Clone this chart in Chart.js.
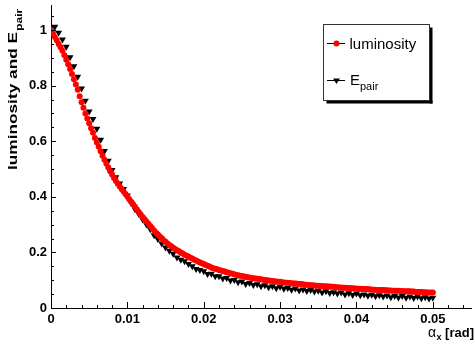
<!DOCTYPE html>
<html>
<head>
<meta charset="utf-8">
<script src="https://cdn.jsdelivr.net/npm/chart.js@4"></script>
<style>
  html, body { margin: 0; padding: 0; background: #fff; }
  #wrap { width: 475px; height: 345px; }
</style>
</head>
<body>
<div id="wrap"><canvas id="myChart" width="475" height="345"></canvas></div>
<script>
// crossing angle alpha_x [rad] for the luminosity scan
const lumiX = [
  0, 0.00025, 0.0005, 0.00075, 0.001, 0.00125, 0.0015, 0.00175,
  0.002, 0.00225, 0.0025, 0.00275, 0.003, 0.00325, 0.0035, 0.00375,
  0.004, 0.00425, 0.0045, 0.00475, 0.005, 0.00525, 0.0055, 0.00575,
  0.006, 0.00625, 0.0065, 0.00675, 0.007, 0.00725, 0.0075, 0.00775,
  0.008, 0.00825, 0.0085, 0.00875, 0.009, 0.00925, 0.0095, 0.00975,
  0.01, 0.01025, 0.0105, 0.01075, 0.011, 0.01125, 0.0115, 0.01175,
  0.012, 0.01225, 0.0125, 0.01275, 0.013, 0.01325, 0.0135, 0.01375,
  0.014, 0.01425, 0.0145, 0.01475, 0.015, 0.01525, 0.0155, 0.01575,
  0.016, 0.01625, 0.0165, 0.01675, 0.017, 0.01725, 0.0175, 0.01775,
  0.018, 0.01825, 0.0185, 0.01875, 0.019, 0.01925, 0.0195, 0.01975,
  0.02, 0.02025, 0.0205, 0.02075, 0.021, 0.02125, 0.0215, 0.02175,
  0.022, 0.02225, 0.0225, 0.02275, 0.023, 0.02325, 0.0235, 0.02375,
  0.024, 0.02425, 0.0245, 0.02475, 0.025, 0.02525, 0.0255, 0.02575,
  0.026, 0.02625, 0.0265, 0.02675, 0.027, 0.02725, 0.0275, 0.02775,
  0.028, 0.02825, 0.0285, 0.02875, 0.029, 0.02925, 0.0295, 0.02975,
  0.03, 0.03025, 0.0305, 0.03075, 0.031, 0.03125, 0.0315, 0.03175,
  0.032, 0.03225, 0.0325, 0.03275, 0.033, 0.03325, 0.0335, 0.03375,
  0.034, 0.03425, 0.0345, 0.03475, 0.035, 0.03525, 0.0355, 0.03575,
  0.036, 0.03625, 0.0365, 0.03675, 0.037, 0.03725, 0.0375, 0.03775,
  0.038, 0.03825, 0.0385, 0.03875, 0.039, 0.03925, 0.0395, 0.03975,
  0.04, 0.04025, 0.0405, 0.04075, 0.041, 0.04125, 0.0415, 0.04175,
  0.042, 0.04225, 0.0425, 0.04275, 0.043, 0.04325, 0.0435, 0.04375,
  0.044, 0.04425, 0.0445, 0.04475, 0.045, 0.04525, 0.0455, 0.04575,
  0.046, 0.04625, 0.0465, 0.04675, 0.047, 0.04725, 0.0475, 0.04775,
  0.048, 0.04825, 0.0485, 0.04875, 0.049, 0.04925, 0.0495, 0.04975,
  0.05,
];

// relative luminosity (red circles)
const luminosity = [
  1.0, 0.988, 0.975, 0.963, 0.95, 0.938, 0.925, 0.909,
  0.893, 0.877, 0.86, 0.842, 0.823, 0.804, 0.785, 0.762,
  0.74, 0.72, 0.7, 0.682, 0.665, 0.647, 0.63, 0.612,
  0.595, 0.58, 0.564, 0.548, 0.533, 0.519, 0.505, 0.492,
  0.48, 0.468, 0.457, 0.447, 0.437, 0.428, 0.419, 0.41,
  0.401, 0.391, 0.382, 0.373, 0.364, 0.354, 0.345, 0.336,
  0.327, 0.319, 0.311, 0.303, 0.295, 0.287, 0.279, 0.271,
  0.264, 0.257, 0.251, 0.244, 0.238, 0.232, 0.227, 0.222,
  0.217, 0.212, 0.208, 0.204, 0.2, 0.196, 0.192, 0.188,
  0.185, 0.181, 0.178, 0.174, 0.171, 0.167, 0.164, 0.161,
  0.158, 0.155, 0.152, 0.149, 0.146, 0.143, 0.141, 0.139,
  0.137, 0.135, 0.133, 0.131, 0.129, 0.127, 0.125, 0.123,
  0.121, 0.119, 0.118, 0.116, 0.115, 0.113, 0.112, 0.111,
  0.11, 0.108, 0.107, 0.106, 0.105, 0.104, 0.103, 0.102,
  0.101, 0.1, 0.099, 0.098, 0.097, 0.096, 0.095, 0.094,
  0.094, 0.093, 0.092, 0.091, 0.091, 0.09, 0.089, 0.088,
  0.088, 0.087, 0.086, 0.086, 0.085, 0.084, 0.084, 0.083,
  0.082, 0.082, 0.081, 0.08, 0.08, 0.079, 0.079, 0.078,
  0.078, 0.077, 0.077, 0.076, 0.076, 0.075, 0.075, 0.074,
  0.074, 0.073, 0.073, 0.072, 0.072, 0.071, 0.071, 0.07,
  0.07, 0.069, 0.069, 0.068, 0.068, 0.068, 0.068, 0.067,
  0.067, 0.066, 0.066, 0.065, 0.065, 0.065, 0.065, 0.064,
  0.064, 0.063, 0.063, 0.062, 0.062, 0.062, 0.062, 0.061,
  0.061, 0.06, 0.06, 0.06, 0.06, 0.059, 0.059, 0.058,
  0.058, 0.058, 0.058, 0.057, 0.057, 0.056, 0.056, 0.056,
  0.056,
];

// crossing angle alpha_x [rad] for the pair energy scan
const pairX = [
  0, 0.0005, 0.001, 0.0015, 0.002, 0.0025, 0.003, 0.0035,
  0.004, 0.0045, 0.005, 0.0055, 0.006, 0.0065, 0.007, 0.0075,
  0.008, 0.0085, 0.009, 0.0095, 0.01, 0.0105, 0.011, 0.0115,
  0.012, 0.0125, 0.013, 0.0135, 0.014, 0.0145, 0.015, 0.0155,
  0.016, 0.0165, 0.017, 0.0175, 0.018, 0.0185, 0.019, 0.0195,
  0.02, 0.0205, 0.021, 0.0215, 0.022, 0.0225, 0.023, 0.0235,
  0.024, 0.0245, 0.025, 0.0255, 0.026, 0.0265, 0.027, 0.0275,
  0.028, 0.0285, 0.029, 0.0295, 0.03, 0.0305, 0.031, 0.0315,
  0.032, 0.0325, 0.033, 0.0335, 0.034, 0.0345, 0.035, 0.0355,
  0.036, 0.0365, 0.037, 0.0375, 0.038, 0.0385, 0.039, 0.0395,
  0.04, 0.0405, 0.041, 0.0415, 0.042, 0.0425, 0.043, 0.0435,
  0.044, 0.0445, 0.045, 0.0455, 0.046, 0.0465, 0.047, 0.0475,
  0.048, 0.0485, 0.049, 0.0495, 0.05,
];

// relative pair energy (black triangles)
const ePair = [
  1.01, 1.012, 0.99, 0.966, 0.94, 0.902, 0.87, 0.832,
  0.79, 0.746, 0.707, 0.68, 0.645, 0.605, 0.565, 0.53,
  0.496, 0.47, 0.448, 0.428, 0.405, 0.378, 0.355, 0.338,
  0.318, 0.3, 0.283, 0.262, 0.248, 0.232, 0.218, 0.206,
  0.195, 0.182, 0.174, 0.168, 0.158, 0.15, 0.14, 0.137,
  0.132, 0.122, 0.123, 0.114, 0.114, 0.106, 0.108, 0.099,
  0.101, 0.093, 0.095, 0.086, 0.09, 0.083, 0.085, 0.078,
  0.082, 0.075, 0.078, 0.071, 0.076, 0.069, 0.072, 0.066,
  0.07, 0.063, 0.067, 0.061, 0.065, 0.059, 0.062, 0.056,
  0.06, 0.054, 0.057, 0.052, 0.056, 0.049, 0.053, 0.047,
  0.052, 0.046, 0.049, 0.044, 0.048, 0.042, 0.046, 0.041,
  0.045, 0.039, 0.043, 0.038, 0.043, 0.037, 0.041, 0.036,
  0.041, 0.035, 0.039, 0.034, 0.037,
];

const xTickValues = [0, 0.01, 0.02, 0.03, 0.04, 0.05];
const xTickLabels = ["0", "0.01", "0.02", "0.03", "0.04", "0.05"];
const yTickValues = [0, 0.2, 0.4, 0.6, 0.8, 1];
const yTickLabels = ["0", "0.2", "0.4", "0.6", "0.8", "1"];

const FONT = '"Liberation Sans", Arial, Helvetica, sans-serif';

function toPoints(xs, ys) {
  return xs.map((x, i) => ({ x: x, y: ys[i] }));
}

// ROOT style inward ticks, axis titles and the boxed legend
const rootDecor = {
  id: "root_decor",
  afterDraw(chart) {
    const { ctx, chartArea, scales } = chart;
    const xs = scales.x;
    const ys = scales.y;
    ctx.save();
    ctx.strokeStyle = "#000";
    ctx.lineWidth = 1;
    ctx.beginPath();
    // x ticks, minor every 0.002
    for (let i = 0; i <= 27; i++) {
      const px = Math.round(xs.getPixelForValue(i * 0.002)) + 0.5;
      const len = i % 5 === 0 ? 6 : 3;
      ctx.moveTo(px, chartArea.bottom);
      ctx.lineTo(px, chartArea.bottom - len);
    }
    // y ticks, minor every 0.05
    for (let i = 0; i <= 21; i++) {
      const py = Math.round(ys.getPixelForValue(i * 0.05)) + 0.5;
      const len = i % 4 === 0 ? 5 : 3;
      ctx.moveTo(chartArea.left, py);
      ctx.lineTo(chartArea.left + len, py);
    }
    ctx.stroke();

    ctx.fillStyle = "#000";
    ctx.textBaseline = "alphabetic";

    // x title: alpha_x [rad]
    ctx.textAlign = "right";
    ctx.font = "bold 13px " + FONT;
    const rad = " [rad]";
    ctx.fillText(rad, 474, 337);
    const wRad = ctx.measureText(rad).width;
    ctx.font = "bold 9px " + FONT;
    ctx.fillText("x", 474 - wRad, 340);
    const wSub = ctx.measureText("x").width;
    ctx.font = "14px " + FONT;
    ctx.fillText("\u03B1", 474 - wRad - wSub - 0.5, 337);

    // y title: luminosity and E_pair
    ctx.save();
    ctx.textAlign = "left";
    ctx.translate(17, 170);
    ctx.rotate(-Math.PI / 2);
    ctx.font = "bold 13px " + FONT;
    const main = "luminosity and E";
    const w = ctx.measureText(main).width;
    ctx.scale(138 / w, 1);
    ctx.fillText(main, 0, 0);
    ctx.font = "bold 9px " + FONT;
    ctx.fillText("pair", w + 1, 5);
    ctx.restore();

    // legend box with shadow
    const bx = 323.5, by = 24.5, bw = 106, bh = 76;
    ctx.fillStyle = "#000";
    ctx.fillRect(bx + 3, by + bh, bw, 3);
    ctx.fillRect(bx + bw, by + 3, 3, bh);
    ctx.fillStyle = "#fff";
    ctx.fillRect(bx, by, bw, bh);
    ctx.strokeStyle = "#333";
    ctx.strokeRect(bx, by, bw, bh);

    ctx.strokeStyle = "#000";
    ctx.beginPath();
    ctx.moveTo(327, 43.5);
    ctx.lineTo(345, 43.5);
    ctx.moveTo(327, 80.5);
    ctx.lineTo(345, 80.5);
    ctx.stroke();
    ctx.fillStyle = "#ff0000";
    ctx.beginPath();
    ctx.arc(336.5, 43.5, 3, 0, Math.PI * 2);
    ctx.fill();
    ctx.fillStyle = "#000";
    ctx.beginPath();
    ctx.moveTo(333, 78.5);
    ctx.lineTo(340, 78.5);
    ctx.lineTo(336.5, 84);
    ctx.closePath();
    ctx.fill();

    ctx.textAlign = "left";
    ctx.font = "15px " + FONT;
    ctx.fillText("luminosity", 349.5, 49);
    ctx.fillText("E", 350, 85);
    const wE = ctx.measureText("E").width;
    ctx.font = "11px " + FONT;
    ctx.fillText("pair", 350 + wE, 90);
    ctx.restore();
  },
};

const ctx = document.getElementById("myChart");

const chart = new Chart(ctx, {
  type: "scatter",
  data: {
    datasets: [
      {
        label: "luminosity",
        data: toPoints(lumiX, luminosity),
        pointStyle: "circle",
        pointRadius: 3,
        pointBackgroundColor: "#ff0000",
        pointBorderWidth: 0,
        showLine: false,
      },
      {
        label: "Epair",
        data: toPoints(pairX, ePair),
        pointStyle: "triangle",
        pointRotation: 180,
        pointRadius: 4,
        pointBackgroundColor: "#000",
        pointBorderWidth: 0,
        showLine: false,
      },
    ],
  },
  options: {
    responsive: false,
    animation: false,
    devicePixelRatio: 1,
    layout: { padding: { top: 5, right: 0, bottom: 0, left: 0 } },
    plugins: {
      legend: { display: false },
      tooltip: { enabled: false },
    },
    scales: {
      x: {
        type: "linear",
        min: 0,
        max: 0.055,
        grid: { display: false, drawTicks: false },
        border: { display: true, color: "#000", width: 1 },
        afterBuildTicks(scale) {
          scale.ticks = xTickValues.map((v) => ({ value: v }));
        },
        afterFit(scale) {
          scale.height = 37;
          scale.paddingLeft = 0;
          scale.paddingRight = 0;
        },
        ticks: {
          padding: 4,
          color: "#000",
          autoSkip: false,
          maxRotation: 0,
          font: { family: FONT, size: 13, weight: "bold" },
          callback: (value, index) => xTickLabels[index],
        },
      },
      y: {
        type: "linear",
        min: 0,
        max: 1.09,
        grid: { display: false, drawTicks: false },
        border: { display: true, color: "#000", width: 1 },
        afterBuildTicks(scale) {
          scale.ticks = yTickValues.map((v) => ({ value: v }));
        },
        afterFit(scale) {
          scale.width = 51;
          scale.paddingTop = 0;
          scale.paddingBottom = 0;
        },
        ticks: {
          padding: 4,
          color: "#000",
          autoSkip: false,
          font: { family: FONT, size: 13, weight: "bold" },
          callback: (value, index) => yTickLabels[index],
        },
      },
    },
  },
  plugins: [rootDecor],
});
</script>
</body>
</html>
